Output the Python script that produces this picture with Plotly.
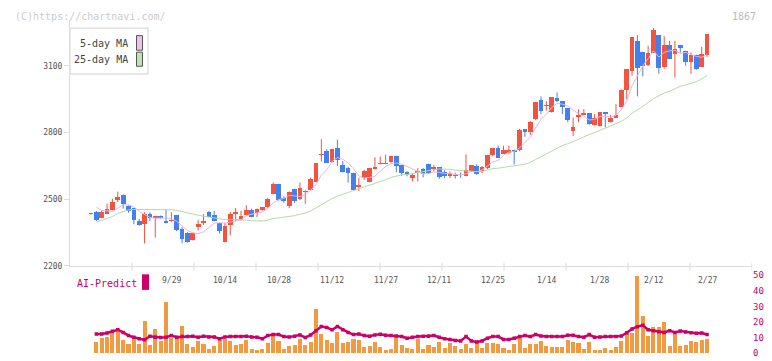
import plotly.graph_objects as go

# ---------------- data ----------------
opens = [2433, 2442, 2417, 2435, 2451, 2496, 2521, 2468, 2460, 2400,
         2387, 2435, 2414, 2425, 2404, 2400, 2429, 2368, 2350, 2316,
         2373, 2393, 2442, 2429, 2394, 2308, 2382, 2432, 2408, 2430,
         2451, 2439, 2451, 2464, 2525, 2569, 2506, 2468, 2547, 2499,
         2531, 2543, 2579, 2697, 2718, 2666, 2731, 2654, 2639, 2619,
         2553, 2597, 2579, 2636, 2658, 2658, 2666, 2696, 2652, 2622,
         2597, 2616, 2635, 2660, 2638, 2643, 2622, 2603, 2603, 2620,
         2603, 2625, 2651, 2625, 2639, 2697, 2731, 2705, 2707, 2720,
         2723, 2814, 2802, 2862, 2946, 2918, 2894, 2954, 2941, 2911,
         2805, 2872, 2880, 2889, 2832, 2829, 2893, 2847, 2867, 2916,
         2991, 3077, 3213, 3164, 3106, 3160, 3239, 3096, 3195, 3156,
         3195, 3169, 3118, 3151, 3096, 3151]
highs = [2435, 2447, 2450, 2481, 2502, 2534, 2521, 2472, 2460, 2411,
         2442, 2441, 2426, 2427, 2455, 2442, 2429, 2374, 2352, 2350,
         2407, 2433, 2447, 2447, 2394, 2394, 2442, 2460, 2448, 2473,
         2458, 2458, 2465, 2506, 2575, 2569, 2513, 2535, 2547, 2575,
         2540, 2597, 2661, 2770, 2725, 2727, 2768, 2672, 2646, 2619,
         2597, 2633, 2639, 2689, 2692, 2700, 2696, 2696, 2652, 2625,
         2617, 2640, 2640, 2660, 2654, 2643, 2630, 2625, 2620, 2620,
         2702, 2652, 2657, 2650, 2700, 2731, 2741, 2741, 2741, 2723,
         2817, 2814, 2853, 2937, 2963, 2941, 2960, 2981, 2941, 2911,
         2868, 2905, 2906, 2889, 2883, 2893, 2893, 2880, 2928, 2994,
         3086, 3230, 3239, 3164, 3191, 3270, 3239, 3234, 3213, 3213,
         3195, 3169, 3160, 3151, 3186, 3243]
lows = [2431, 2402, 2414, 2433, 2450, 2487, 2458, 2439, 2387, 2381,
        2301, 2402, 2327, 2412, 2391, 2398, 2356, 2301, 2304, 2314,
        2359, 2385, 2419, 2400, 2345, 2306, 2337, 2400, 2404, 2428,
        2418, 2420, 2449, 2461, 2523, 2494, 2484, 2460, 2484, 2496,
        2479, 2541, 2577, 2670, 2662, 2664, 2649, 2620, 2575, 2538,
        2537, 2587, 2576, 2634, 2657, 2657, 2664, 2621, 2605, 2603,
        2580, 2580, 2598, 2615, 2625, 2592, 2595, 2595, 2593, 2596,
        2603, 2623, 2610, 2617, 2636, 2693, 2687, 2705, 2703, 2657,
        2716, 2781, 2789, 2856, 2883, 2899, 2890, 2938, 2883, 2847,
        2785, 2847, 2878, 2835, 2832, 2827, 2823, 2845, 2865, 2914,
        2951, 3056, 2963, 3053, 3100, 3160, 3065, 3087, 3131, 3048,
        3160, 3101, 3065, 3083, 3096, 3140]
closes = [2433, 2408, 2442, 2455, 2486, 2509, 2477, 2448, 2408, 2385,
          2435, 2414, 2426, 2414, 2393, 2408, 2363, 2321, 2308, 2346,
          2387, 2403, 2422, 2403, 2355, 2378, 2433, 2442, 2425, 2451,
          2420, 2458, 2463, 2503, 2569, 2496, 2490, 2531, 2490, 2552,
          2537, 2591, 2661, 2705, 2665, 2727, 2678, 2623, 2619, 2540,
          2565, 2629, 2639, 2643, 2661, 2665, 2696, 2649, 2618, 2607,
          2610, 2629, 2613, 2617, 2644, 2601, 2603, 2617, 2607, 2616,
          2632, 2652, 2615, 2644, 2700, 2731, 2687, 2723, 2720, 2712,
          2811, 2802, 2849, 2937, 2899, 2921, 2960, 2944, 2915, 2858,
          2823, 2880, 2889, 2837, 2867, 2893, 2884, 2867, 2880, 2994,
          3086, 3230, 3091, 3099, 3160, 3261, 3091, 3195, 3131, 3178,
          3183, 3118, 3151, 3087, 3156, 3243]

# moving averages (from bar 2 on)
ma5 = [2463, 2450, 2448, 2445, 2460, 2474, 2475, 2466, 2445, 2431,
       2418, 2414, 2415, 2416, 2411, 2401, 2380, 2359, 2349, 2345,
       2353, 2373, 2392, 2394, 2392, 2398, 2402, 2407, 2426, 2434,
       2439, 2443, 2459, 2483, 2498, 2504, 2518, 2515, 2512, 2520,
       2540, 2566, 2609, 2632, 2670, 2687, 2680, 2662, 2637, 2605,
       2595, 2598, 2603, 2627, 2647, 2661, 2663, 2658, 2647, 2636,
       2623, 2615, 2615, 2623, 2621, 2616, 2616, 2614, 2609, 2615,
       2625, 2624, 2632, 2649, 2668, 2675, 2697, 2712, 2715, 2731,
       2754, 2779, 2822, 2860, 2882, 2913, 2932, 2928, 2920, 2900,
       2884, 2873, 2857, 2859, 2873, 2874, 2870, 2878, 2904, 2942,
       3011, 3056, 3100, 3133, 3168, 3140, 3161, 3168, 3171, 3156,
       3161, 3152, 3143, 3139, 3151]
ma25 = [2397, 2405, 2414, 2422, 2436, 2445, 2452, 2454, 2454, 2454,
        2454, 2454, 2454, 2454, 2453, 2450, 2444, 2440, 2432, 2428,
        2424, 2420, 2417, 2413, 2408, 2409, 2409, 2408, 2406, 2403,
        2402, 2402, 2406, 2414, 2416, 2419, 2423, 2426, 2433, 2438,
        2447, 2461, 2476, 2489, 2503, 2514, 2522, 2531, 2538, 2545,
        2553, 2561, 2570, 2578, 2588, 2598, 2605, 2610, 2611, 2616,
        2621, 2625, 2630, 2633, 2636, 2636, 2635, 2631, 2629, 2625,
        2624, 2624, 2625, 2631, 2638, 2640, 2643, 2646, 2648, 2654,
        2658, 2666, 2679, 2691, 2703, 2717, 2730, 2742, 2750, 2759,
        2770, 2781, 2790, 2800, 2811, 2820, 2830, 2840, 2851, 2866,
        2887, 2902, 2917, 2935, 2953, 2965, 2978, 2986, 2997, 3008,
        3014, 3022, 3029, 3041, 3058]

# lower panel (from bar 2 on)
volume = [6.9, 9.4, 10.6, 12.7, 13.3, 8.1, 5.6, 10.6, 5.6, 20.6,
          5.0, 15.2, 7.5, 33.1, 9.4, 9.4, 17.5, 5.6, 3.75, 7.5,
          5.6, 2.5, 4.4, 8.3, 8.8, 7.5, 5.0, 5.6, 8.1, 2.5,
          1.9, 2.5, 6.3, 11.3, 7.5, 2.5, 4.4, 5.0, 8.8, 5.0,
          6.9, 28.1, 12.5, 8.1, 6.3, 13.75, 6.3, 6.9, 8.8, 8.1,
          3.75, 4.4, 6.9, 3.75, 1.9, 2.9, 10.6, 5.0, 3.1, 2.5,
          8.75, 2.5, 5.0, 3.75, 6.9, 3.1, 6.25, 4.4, 2.5, 5.6,
          3.1, 6.9, 3.1, 6.25, 6.25, 5.6, 3.1, 1.9, 5.6, 9.6,
          3.1, 5.6, 5.6, 7.5, 4.4, 3.75, 3.75, 3.75, 8.1, 6.9,
          6.25, 2.5, 6.9, 1.9, 1.9, 3.1, 1.9, 3.75, 7.5, 13.75,
          13.1, 49.4, 23.75, 11.25, 16.9, 16.9, 20.0, 4.4, 12.5, 4.4,
          5.0, 7.5, 6.9, 8.1, 8.75]
ai_predict = [12.3, 12.3, 12.9, 14.0, 15.0, 13.3, 11.25, 10.2, 9.2, 8.5,
              10.8, 10.2, 10.0, 10.2, 11.25, 10.2, 10.6, 10.6, 10.8, 10.2,
              10.8, 10.4, 10.4, 9.2, 10.4, 10.6, 10.6, 10.6, 10.9, 10.4,
              10.2, 9.2, 11.25, 11.9, 11.9, 10.6, 10.4, 10.9, 11.7, 10.0,
              11.7, 14.4, 17.1, 16.5, 15.0, 17.1, 15.0, 13.3, 11.9, 12.3,
              11.25, 10.9, 11.7, 12.1, 11.5, 11.25, 11.0, 10.6, 9.6, 10.2,
              10.6, 10.8, 10.8, 11.25, 10.2, 9.2, 8.75, 8.1, 7.8, 10.6,
              7.8, 7.2, 7.8, 9.6, 10.6, 10.6, 8.75, 8.75, 9.6, 10.6,
              11.25, 10.6, 11.9, 11.0, 10.6, 10.6, 10.6, 10.6, 11.5, 11.5,
              10.6, 10.2, 11.9, 10.2, 10.4, 10.6, 10.6, 10.6, 11.0, 13.1,
              15.5, 17.0, 17.9, 15.0, 14.4, 13.75, 13.3, 14.4, 13.3, 14.2,
              13.6, 13.1, 12.7, 12.9, 11.9]

date_labels = ["9/29", "10/14", "10/28", "11/12", "11/27", "12/11",
               "12/25", "1/14", "1/28", "2/12", "2/27"]
date_label_bar = [16, 26, 36, 46, 56, 66, 76, 86, 96, 106, 116]
price_ticks = [2200, 2500, 2800, 3100]
ai_ticks = [0, 10, 20, 30, 40, 50]

# ---------------- styling ----------------
W, H = 772, 361
UP = "#f2543f"
DOWN = "#4380ee"
ORANGE = "#f39a40"
CRIMSON = "#cc0066"
PINK = "#e9b4e9"
GREEN = "#b3dba4"
FONT = "DejaVu Sans Mono"

PX_LEFT, PX_RIGHT = 70, 752
BAR_PX = 5.357
FIRST_PX = 91.0
X0 = 1 + (PX_LEFT - FIRST_PX) / BAR_PX
X1 = 1 + (PX_RIGHT - FIRST_PX) / BAR_PX


def px(x):
    return x / W


def py(y):
    return 1 - y / H


xs = list(range(1, len(closes) + 1))
xs2 = xs[1:]

fig = go.Figure()

# wicks
for want_up, col in ((True, UP), (False, DOWN)):
    wx, wy = [], []
    for k, o, h, l, c in zip(xs, opens, highs, lows, closes):
        if (c >= o) == want_up:
            wx += [k, k, None]
            wy += [l, h, None]
    fig.add_trace(go.Scatter(x=wx, y=wy, mode="lines",
                             line=dict(color=col, width=1),
                             hoverinfo="skip", xaxis="x", yaxis="y"))

# bodies
MIN_BODY = 4
bases = [min(o, c) for o, c in zip(opens, closes)]
sizes = [max(abs(c - o), MIN_BODY) for o, c in zip(opens, closes)]
cols = [UP if c >= o else DOWN for o, c in zip(opens, closes)]
fig.add_trace(go.Bar(x=xs, y=sizes, base=bases, width=0.88,
                     marker=dict(color=cols, line=dict(width=0)),
                     xaxis="x", yaxis="y"))

# moving averages
fig.add_trace(go.Scatter(x=xs2, y=ma5, mode="lines",
                         line=dict(color=PINK, width=1), xaxis="x", yaxis="y"))
fig.add_trace(go.Scatter(x=xs2, y=ma25, mode="lines",
                         line=dict(color=GREEN, width=1), xaxis="x", yaxis="y"))

# lower panel
fig.add_trace(go.Bar(x=xs2, y=volume, width=0.75,
                     marker=dict(color=ORANGE, line=dict(width=0)),
                     xaxis="x2", yaxis="y2"))
fig.add_trace(go.Scatter(x=xs2, y=ai_predict, mode="lines+markers",
                         line=dict(color=CRIMSON, width=2.5),
                         marker=dict(symbol="square", size=3.5, color=CRIMSON),
                         xaxis="x2", yaxis="y2"))

step = (X1 - X0) / 11
tick_positions = [X0 + step * j for j in range(1, 12)]

shapes = []
for t in tick_positions:
    shapes.append(dict(type="line", xref="x", yref="paper", x0=t, x1=t,
                       y0=py(265), y1=py(273),
                       line=dict(color="#dddddd", width=1)))
# legend box
shapes.append(dict(type="rect", xref="paper", yref="paper",
                   x0=px(70), x1=px(148), y0=py(71), y1=py(24),
                   line=dict(color="#e0e0e0", width=1.5), fillcolor="white"))
shapes.append(dict(type="rect", xref="paper", yref="paper",
                   x0=px(136.5), x1=px(142.5), y0=py(46.5), y1=py(31.5),
                   line=dict(color="#555555", width=1), fillcolor="#f0c0f0"))
shapes.append(dict(type="rect", xref="paper", yref="paper",
                   x0=px(136.5), x1=px(142.5), y0=py(63), y1=py(48.5),
                   line=dict(color="#555555", width=1), fillcolor="#c0e2b2"))
# AI-Predict marker box
shapes.append(dict(type="rect", xref="paper", yref="paper",
                   x0=px(142), x1=px(149), y0=py(293), y1=py(277),
                   line=dict(width=0), fillcolor=CRIMSON))

ann = []
ann.append(dict(text="(C)https://chartnavi.com/", xref="paper", yref="paper",
                x=px(13), y=py(12), xanchor="left", yanchor="middle",
                showarrow=False, font=dict(family=FONT, size=10, color="#cccccc")))
ann.append(dict(text="1867", xref="paper", yref="paper",
                x=px(758), y=py(12), xanchor="right", yanchor="middle",
                showarrow=False, font=dict(family=FONT, size=10, color="#bbbbbb")))
ann.append(dict(text="5-day MA", xref="paper", yref="paper",
                x=px(130), y=py(40), xanchor="right", yanchor="middle",
                showarrow=False, font=dict(family=FONT, size=10, color="#444444")))
ann.append(dict(text="25-day MA", xref="paper", yref="paper",
                x=px(130), y=py(56), xanchor="right", yanchor="middle",
                showarrow=False, font=dict(family=FONT, size=10, color="#444444")))
ann.append(dict(text="AI-Predict", xref="paper", yref="paper",
                x=px(75), y=py(286), xanchor="left", yanchor="middle",
                showarrow=False, font=dict(family=FONT, size=10, color=CRIMSON)))
for lab, k in zip(date_labels, date_label_bar):
    ann.append(dict(text=lab, xref="x", yref="paper", x=k, y=py(283),
                    xanchor="center", yanchor="middle", showarrow=False,
                    font=dict(family=FONT, size=8, color="#555555")))

fig.update_layout(
    width=W, height=H, margin=dict(l=0, r=0, t=0, b=0),
    paper_bgcolor="white", plot_bgcolor="white",
    showlegend=False, barmode="overlay", bargap=0, hovermode=False,
    xaxis=dict(domain=[px(PX_LEFT), px(PX_RIGHT)], range=[X0, X1],
               anchor="y", showline=True, linecolor="#dddddd", linewidth=1,
               showticklabels=False, ticks="", showgrid=False, zeroline=False),
    yaxis=dict(domain=[py(268.3), py(15)], range=[2200, 3308.8],
               anchor="x", tickvals=price_ticks, ticks="outside", ticklen=5,
               tickcolor="#dddddd", showline=True, linecolor="#dddddd",
               linewidth=1, showgrid=False, zeroline=False,
               tickfont=dict(family=FONT, size=8, color="#555555")),
    xaxis2=dict(domain=[px(PX_LEFT), px(PX_RIGHT)], range=[X0, X1],
                anchor="y2", matches="x", visible=False),
    yaxis2=dict(domain=[py(358), py(278)], range=[0, 50], anchor="x2",
                side="right", tickvals=ai_ticks, ticks="", showline=False,
                showgrid=False, zeroline=False,
                tickfont=dict(family=FONT, size=9, color=CRIMSON)),
    shapes=shapes, annotations=ann,
)

fig.write_html("out.html",
               config={"displayModeBar": False, "staticPlot": True},
               post_script="document.body.style.margin='0';"
                           "document.body.style.overflow='hidden';")
